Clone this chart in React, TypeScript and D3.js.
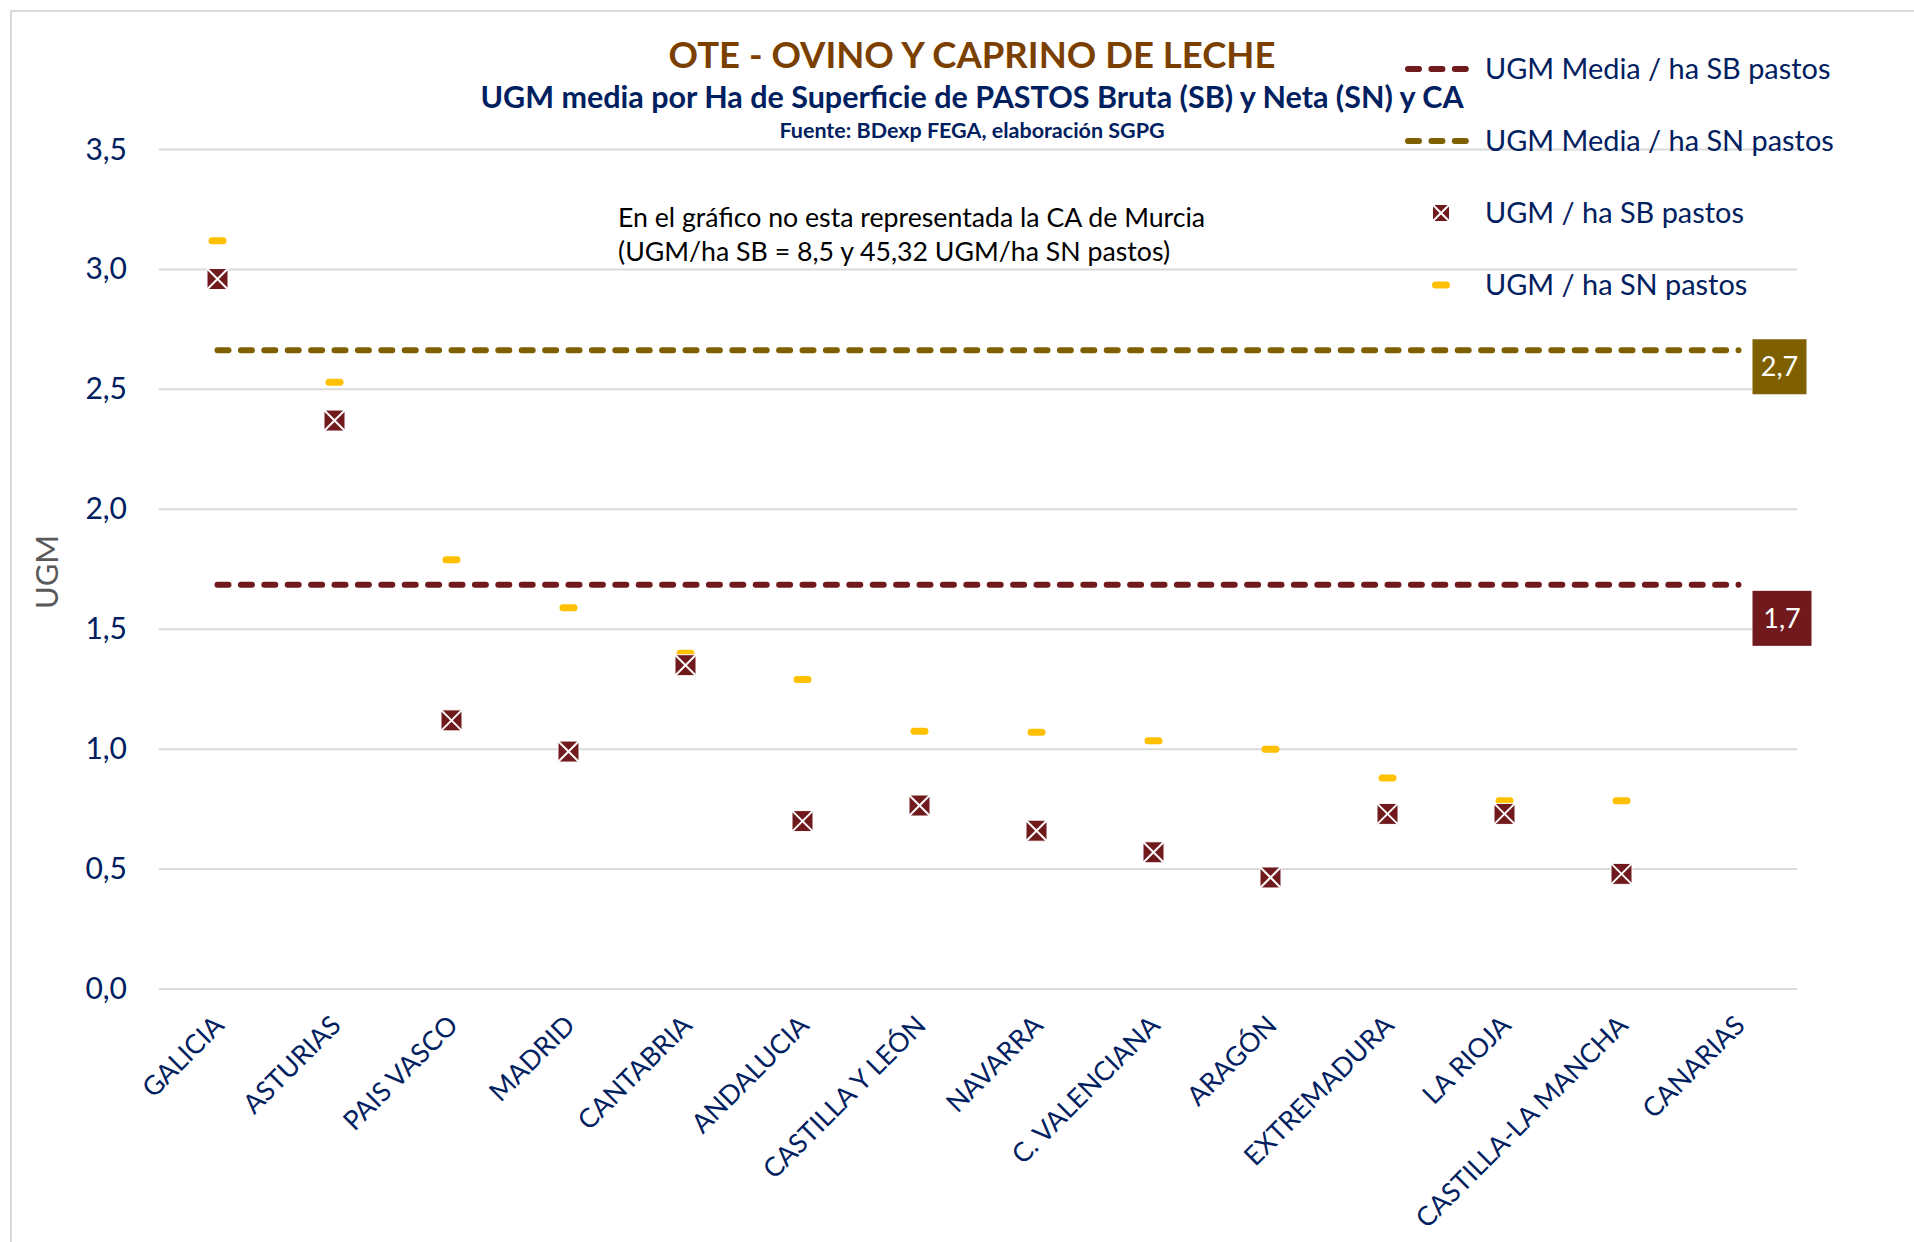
import * as d3 from "d3";

const categories = [
  "GALICIA", "ASTURIAS", "PAIS VASCO", "MADRID", "CANTABRIA", "ANDALUCIA",
  "CASTILLA Y LEÓN", "NAVARRA", "C. VALENCIANA", "ARAGÓN", "EXTREMADURA",
  "LA RIOJA", "CASTILLA-LA MANCHA", "CANARIAS",
];
// UGM / ha SB pastos
const sbValues = [2.96, 2.37, 1.12, 0.99, 1.35, 0.70, 0.765, 0.66, 0.57, 0.465, 0.73, 0.73, 0.48, null];
// UGM / ha SN pastos
const snValues = [3.12, 2.53, 1.79, 1.59, 1.40, 1.29, 1.075, 1.07, 1.035, 1.0, 0.88, 0.785, 0.785, null];

const meanSB = 1.685;
const meanSN = 2.663;
const meanLabels = ["1,7", "2,7"];
const yTicks = [0, 0.5, 1, 1.5, 2, 2.5, 3, 3.5];

const legendItems = [
  { label: "UGM Media / ha SB pastos", kind: "lineSB" },
  { label: "UGM Media / ha SN pastos", kind: "lineSN" },
  { label: "UGM / ha SB pastos", kind: "sb" },
  { label: "UGM / ha SN pastos", kind: "sn" },
];

const W = 1914, H = 1242;
const FONT = "Lato, 'Open Sans', sans-serif";
const NAVY = "#002060";
const RED = "#701A1E";
const OLIVE = "#7F6000";
const YELLOW = "#FFC000";

const SbMarker = ({ x, y, s = 21 }) => (
  <g transform={`translate(${x},${y})`}>
    <rect x={-s / 2} y={-s / 2} width={s} height={s} fill={RED} stroke="#fff" strokeWidth={1} />
    <line x1={-s / 2} y1={-s / 2} x2={s / 2} y2={s / 2} stroke="#fff" strokeWidth={2} />
    <line x1={s / 2} y1={-s / 2} x2={-s / 2} y2={s / 2} stroke="#fff" strokeWidth={2} />
  </g>
);

const SnMarker = ({ x, y }) => (
  <rect x={x - 9} y={y - 3.5} width={18} height={7} rx={3.5} fill={YELLOW} />
);

export default function App() {
  const x = d3.scaleBand().domain(categories).range([159, 1797]).padding(0);
  const y = d3.scaleLinear().domain([0, 3.5]).range([989, 149.5]);
  const cx = (c) => x(c) + x.bandwidth() / 2;
  const fmt = (v) => d3.format(".1f")(v).replace(".", ",");

  const lineStart = cx(categories[0]);
  const lineEnd = cx(categories[categories.length - 1]);

  const means = [
    { v: meanSB, color: RED, label: meanLabels[0], dy: 6, w: 59 },
    { v: meanSN, color: OLIVE, label: meanLabels[1], dy: -11, w: 54 },
  ];

  return (
    <svg width={W} height={H} style={{ position: "absolute", left: 0, top: 0, background: "#fff" }}
      fontFamily={FONT}>
      <rect x={11} y={11} width={W + 50} height={H + 50} fill="#fff" stroke="#d9d9d9" strokeWidth={2} />

      {/* titles */}
      <text x={972} y={68} textAnchor="middle" fontSize={36.5} fontWeight="bold" fill="#7B3F00">
        OTE - OVINO Y CAPRINO DE LECHE
      </text>
      <text x={972} y={108} textAnchor="middle" fontSize={30.5} fontWeight="bold" fill={NAVY}>
        UGM media por Ha de Superficie de PASTOS Bruta (SB) y Neta (SN) y CA
      </text>
      <text x={972} y={138} textAnchor="middle" fontSize={21.5} fontWeight="bold" fill={NAVY}>
        Fuente: BDexp FEGA, elaboración SGPG
      </text>

      {/* gridlines + y ticks */}
      {yTicks.map((t) => (
        <g key={t}>
          <line x1={159} x2={1797} y1={y(t)} y2={y(t)} stroke="#d9d9d9" strokeWidth={2} />
          <text x={127} y={y(t) + 10} textAnchor="end" fontSize={30} fill={NAVY}>{fmt(t)}</text>
        </g>
      ))}

      <text transform="translate(58,572) rotate(-90)" textAnchor="middle" fontSize={31} fill="#595959">UGM</text>

      {/* note */}
      <text x={618} y={227} fontSize={26.7} fill="#000">
        <tspan x={618}>En el gráfico no esta representada la CA de Murcia</tspan>
        <tspan x={618} y={261}>(UGM/ha SB = 8,5 y 45,32  UGM/ha SN pastos)</tspan>
      </text>

      {/* mean lines */}
      {means.map((m) => (
        <g key={m.label}>
          <line x1={lineStart} x2={lineEnd} y1={y(m.v)} y2={y(m.v)} stroke={m.color}
            strokeWidth={6} strokeDasharray="11 12.4" strokeLinecap="round" />
          <rect x={lineEnd + 14} y={y(m.v) + m.dy} width={m.w} height={55} fill={m.color} />
          <text x={lineEnd + 14 + m.w / 2} y={y(m.v) + m.dy + 37} textAnchor="middle" fontSize={27} fill="#fff">
            {m.label}
          </text>
        </g>
      ))}

      {/* markers */}
      {categories.map((c, i) => snValues[i] == null ? null : (
        <SnMarker key={"sn" + c} x={cx(c)} y={y(snValues[i])} />
      ))}
      {categories.map((c, i) => sbValues[i] == null ? null : (
        <SbMarker key={"sb" + c} x={cx(c)} y={y(sbValues[i])} />
      ))}

      {/* x labels */}
      {categories.map((c) => (
        <text key={c} transform={`translate(${cx(c) + 8},${1027}) rotate(-45)`} textAnchor="end"
          fontSize={26.7} fill={NAVY}>{c}</text>
      ))}

      {/* legend */}
      {legendItems.map((d, i) => {
        const ly = 69 + i * 72;
        return (
          <g key={d.label}>
            {d.kind === "lineSB" || d.kind === "lineSN" ? (
              <line x1={1408} x2={1466} y1={ly} y2={ly} stroke={d.kind === "lineSB" ? RED : OLIVE}
                strokeWidth={6} strokeDasharray="11 12.4" strokeLinecap="round" />
            ) : d.kind === "sb" ? (
              <SbMarker x={1441} y={ly} s={17} />
            ) : (
              <SnMarker x={1441} y={ly} />
            )}
            <text x={1485} y={ly + 10} fontSize={28.9} fill={NAVY}>{d.label}</text>
          </g>
        );
      })}
    </svg>
  );
}
